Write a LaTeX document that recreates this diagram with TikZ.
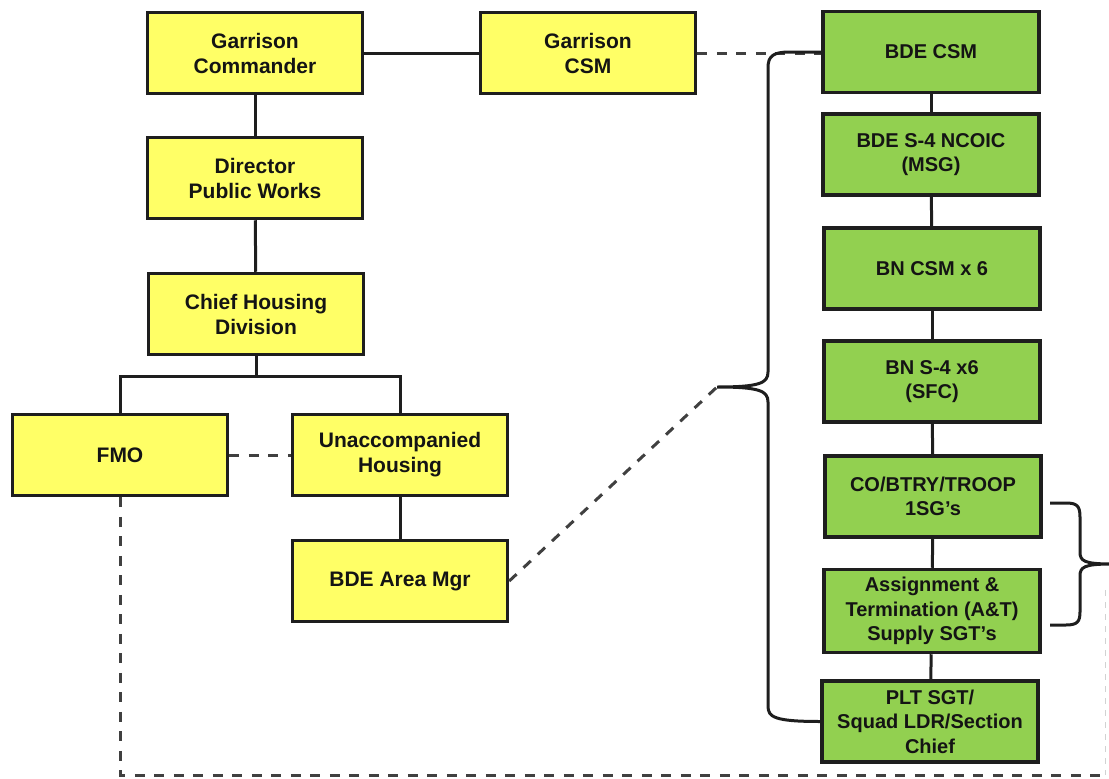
\documentclass[tikz,border=0pt]{standalone}
\usepackage{fontspec}
\setmainfont{Liberation Sans}
\definecolor{boxyellow}{HTML}{FFFF66}
\definecolor{boxgreen}{HTML}{92D050}
\definecolor{edge}{HTML}{1E1E1E}
\begin{document}
\begin{tikzpicture}[x=1pt,y=-1pt,
  unit/.style={draw=edge, line width=3.5pt, minimum width=215pt, minimum height=81pt,
    inner sep=2pt, align=center, text=black!92,
    font=\bfseries\fontsize{21}{25}\selectfont},
  yunit/.style={unit, fill=boxyellow},
  gunit/.style={unit, fill=boxgreen, minimum width=216pt,
    font=\bfseries\fontsize{20}{24.5}\selectfont},
  conn/.style={draw=edge, line width=3pt},
  dconn/.style={draw=edge!85, line width=3pt, dash pattern=on 10pt off 9.5pt}]
\useasboundingbox (0,0) rectangle (1109,779);

% garrison chain (yellow)
\node[yunit] (gc)   at (255,53)  {Garrison\\Commander};
\node[yunit] (gcsm) at (588,53)  {Garrison\\CSM};
\node[yunit] (dpw)  at (255,178) {Director\\Public Works};
\node[yunit] (chd)  at (256,314) {Chief Housing\\Division};
\node[yunit] (fmo)  at (120,455) {FMO};
\node[yunit] (uh)   at (400,455) {Unaccompanied\\Housing};
\node[yunit] (bam)  at (400,581) {BDE Area Mgr};

% brigade chain (green)
\node[gunit] (bde)  at (931,52)    {BDE CSM};
\node[gunit] (s4)   at (931,154.5) {BDE S-4 NCOIC\\(MSG)};
\node[gunit] (bn)   at (932,268.5) {BN CSM x 6};
\node[gunit] (bns4) at (932,381.5) {BN S-4 x6\\(SFC)};
\node[gunit] (co)   at (933,496.5) {CO/BTRY/TROOP\\1SG's};
\node[gunit, minimum height=83pt] (at) at (932,611) {Assignment \&\\Termination (A\&T)\\Supply SGT's};
\node[gunit] (plt)  at (930,721.5) {PLT SGT/\\Squad LDR/Section\\Chief};

% solid reporting lines
\draw[conn] (gc.east) -- (gcsm.west);
\draw[conn] (gc) -- (dpw);
\draw[conn] (dpw) -- (chd);
\coordinate (bus) at (256,376);
\draw[conn] (chd.south) -- (bus);
\draw[conn] (fmo.north) |- (bus) -| (uh.north);
\draw[conn] (uh) -- (bam);
\draw[conn] (bde) -- (s4);
\draw[conn] (s4) -- (bn);
\draw[conn] (bn) -- (bns4);
\draw[conn] (bns4) -- (co);
\draw[conn] (co) -- (at);
\draw[conn] (at) -- (plt);

% coordination lines
\coordinate (tip) at (717,387);
\coordinate (bottomright) at (1115,775);
\draw[dconn] (gcsm.east) -- (gcsm.east -| bde.west);
\draw[dconn] (fmo.east) -- (uh.west);
\draw[dconn] (bam.east) -- (tip);
\draw[dconn] (fmo.south) |- (bottomright);
\coordinate (edgetop) at (1105,590);
\draw[draw=gray!35, line width=1pt, dash pattern=on 6pt off 6pt] (edgetop) -- (edgetop |- bottomright);

% brace grouping the brigade chain
\draw[conn, line cap=round] (bde.west) -- (790,52)
  .. controls (773,52) and (768,56) .. (768,68) -- (768,372)
  .. controls (768,383) and (760,387) .. (tip)
  .. controls (760,387) and (768,391) .. (768,402) -- (768,706)
  .. controls (768,717) and (774,721.5) .. (plt.west);

% brace grouping the company level
\coordinate (rbtop) at (1050,503);
\coordinate (rbbot) at (1050,625);
\coordinate (rbtip) at (1112,564);
\draw[conn] (rbtop) -- (1066,503)
  .. controls (1077,503) and (1080,506) .. (1080,517) -- (1080,552)
  .. controls (1080,561) and (1084,564) .. (rbtip)
  .. controls (1084,564) and (1080,567) .. (1080,576) -- (1080,612)
  .. controls (1080,622) and (1077,625) .. (1066,625) -- (rbbot);
\end{tikzpicture}
\end{document}
